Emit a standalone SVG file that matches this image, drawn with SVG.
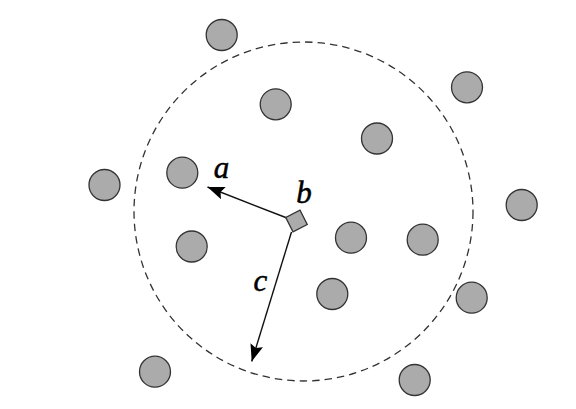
<svg xmlns="http://www.w3.org/2000/svg" width="576" height="409" viewBox="0 0 576 409">
  <style>
    .pt { fill: #ababab; stroke: #333; stroke-width: 1.3; }
    .range { fill: none; stroke: #333; stroke-width: 1.3; stroke-dasharray: 7.5 5; }
    .vec { fill: none; stroke: #111; stroke-width: 1.4; }
    .lbl { font-family: "Liberation Serif", "DejaVu Serif", serif; font-style: italic; font-size: 31px; fill: #000; stroke: #000; stroke-width: 0.5; text-anchor: middle; }
  </style>
  <defs>
    <marker id="arrow" viewBox="0 0 17 13" refX="17" refY="6.5" markerWidth="17" markerHeight="13" markerUnits="userSpaceOnUse" orient="auto">
      <path d="M0,0 L17,6.5 L0,13 L3,6.5 Z" fill="#000"/>
    </marker>
  </defs>
  <rect width="576" height="409" fill="#fff"/>
  <g id="range">
    <circle class="range" cx="303.5" cy="211.5" r="169.5"/>
  </g>
  <g id="points">
    <circle id="p1" class="pt" cx="221.7" cy="35" r="15.5"/>
    <circle id="p2" class="pt" cx="275.7" cy="104.3" r="15.5"/>
    <circle id="p3" class="pt" cx="467" cy="87.3" r="15.5"/>
    <circle id="p4" class="pt" cx="377" cy="138.5" r="15.5"/>
    <circle id="p5" class="pt" cx="182.3" cy="172.7" r="15.5"/>
    <circle id="p6" class="pt" cx="104.5" cy="185" r="15.5"/>
    <circle id="p7" class="pt" cx="521.7" cy="205" r="15.5"/>
    <circle id="p8" class="pt" cx="191.7" cy="246.5" r="15.5"/>
    <circle id="p9" class="pt" cx="351" cy="237.7" r="15.5"/>
    <circle id="p10" class="pt" cx="422.7" cy="239.7" r="15.5"/>
    <circle id="p11" class="pt" cx="332.3" cy="294" r="15.5"/>
    <circle id="p12" class="pt" cx="471.7" cy="297.7" r="15.5"/>
    <circle id="p13" class="pt" cx="155" cy="371.7" r="15.5"/>
    <circle id="p14" class="pt" cx="414.7" cy="380" r="15.5"/>
  </g>
  <g id="connectors">
    <line class="vec" x1="287" y1="218" x2="207.5" y2="187" marker-end="url(#arrow)"/>
    <line class="vec" x1="291.5" y1="232" x2="251.7" y2="361.5" marker-end="url(#arrow)"/>
  </g>
  <g id="agent">
    <rect class="pt" x="-8" y="-8" width="16" height="16" transform="translate(296.5 221) rotate(-27)"/>
  </g>
  <g id="labels">
    <text class="lbl" x="221.5" y="178">a</text>
    <text class="lbl" x="304" y="203">b</text>
    <text class="lbl" x="260.5" y="291">c</text>
  </g>
</svg>
